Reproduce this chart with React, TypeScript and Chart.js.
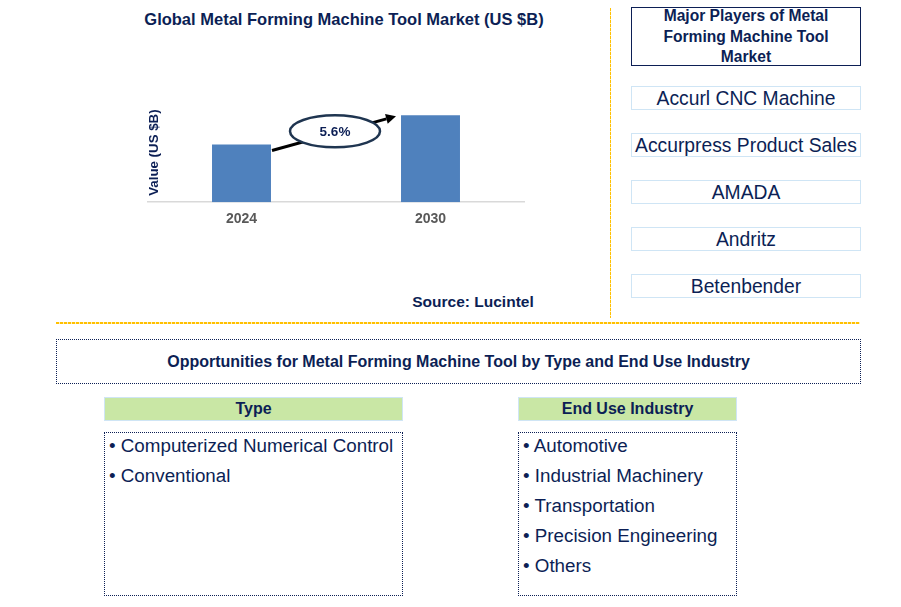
import React, { useEffect, useRef } from "react";
import { Chart, registerables } from "chart.js";

Chart.register(...registerables);

const chartTitle = "Global Metal Forming Machine Tool Market (US $B)";
const years = ["2024", "2030"];
const marketValues = [5.7, 8.6];
const cagrLabel = "5.6%";
const axisTitle = "Value (US $B)";
const sourceLabel = "Source: Lucintel";
const playersTitle = ["Major Players of Metal", "Forming Machine Tool", "Market"];
const players = ["Accurl CNC Machine", "Accurpress Product Sales", "AMADA", "Andritz", "Betenbender"];
const opportunitiesTitle = "Opportunities for Metal Forming Machine Tool by Type and End Use Industry";
const typeTitle = "Type";
const typeItems = ["Computerized Numerical Control", "Conventional"];
const endUseTitle = "End Use Industry";
const endUseItems = ["Automotive", "Industrial Machinery", "Transportation", "Precision Engineering", "Others"];

const NAVY = "#0c1f55";
const FONT = "'Liberation Sans', Arial, sans-serif";

const overlayPlugin = {
  id: "overlay",
  afterDatasetsDraw(chart: any) {
    const ctx = chart.ctx;
    const meta = chart.getDatasetMeta(0);
    const b0 = meta.data[0] as any;
    const b1 = meta.data[1] as any;
    const area = chart.chartArea;
    ctx.save();
    // arrow
    const x1 = b0.x + b0.width / 2 + 1;
    const y1 = b0.y + 6;
    const x2 = b1.x - b1.width / 2 - 5;
    const y2 = b1.y + 1;
    const ang = Math.atan2(y2 - y1, x2 - x1);
    const head = 10;
    ctx.strokeStyle = "#000";
    ctx.fillStyle = "#000";
    ctx.lineWidth = 3;
    ctx.beginPath();
    ctx.moveTo(x1, y1);
    ctx.lineTo(x2 - head * Math.cos(ang), y2 - head * Math.sin(ang));
    ctx.stroke();
    ctx.beginPath();
    ctx.moveTo(x2, y2);
    ctx.lineTo(x2 - head * Math.cos(ang) + 5 * Math.sin(ang), y2 - head * Math.sin(ang) - 5 * Math.cos(ang));
    ctx.lineTo(x2 - head * Math.cos(ang) - 5 * Math.sin(ang), y2 - head * Math.sin(ang) + 5 * Math.cos(ang));
    ctx.closePath();
    ctx.fill();
    // ellipse
    const cx = (x1 + x2) / 2 + 1;
    const cy = (y1 + y2) / 2 - 2;
    ctx.beginPath();
    ctx.ellipse(cx, cy, 45, 16, 0, 0, Math.PI * 2);
    ctx.fillStyle = "#fff";
    ctx.fill();
    ctx.lineWidth = 2.5;
    ctx.strokeStyle = "#1f3550";
    ctx.stroke();
    ctx.fillStyle = NAVY;
    ctx.font = "bold 13.5px " + FONT;
    ctx.textAlign = "center";
    ctx.textBaseline = "middle";
    ctx.fillText(cagrLabel, cx, cy + 1);
    // axis title
    ctx.translate(area.left + 7.5, (area.top + area.bottom) / 2 + 1);
    ctx.rotate(-Math.PI / 2);
    ctx.font = "bold 13.3px " + FONT;
    ctx.fillStyle = NAVY;
    ctx.fillText(axisTitle, 0, 0);
    ctx.restore();
  },
};

function BarChart() {
  const ref = useRef<HTMLCanvasElement | null>(null);
  useEffect(() => {
    if (!ref.current) return;
    const chart = new Chart(ref.current, {
      type: "bar",
      data: {
        labels: years,
        datasets: [
          {
            data: marketValues,
            backgroundColor: "#4f81bd",
            barPercentage: 0.312,
            categoryPercentage: 1,
          },
        ],
      },
      options: {
        animation: false,
        responsive: false,
        maintainAspectRatio: false,
        layout: { padding: { top: 11, left: 0, right: 0, bottom: 0 } },
        plugins: { legend: { display: false }, tooltip: { enabled: false } },
        scales: {
          x: {
            grid: { display: false, drawTicks: false },
            border: { display: true, color: "#d9d9d9", width: 1.5 },
            ticks: { color: "#595959", font: { family: FONT, size: 14, weight: "bold" }, padding: 9 },
          },
          y: { display: false, min: 0, max: 10 },
        },
      },
      plugins: [overlayPlugin],
    });
    return () => chart.destroy();
  }, []);
  return (
    <canvas
      ref={ref}
      width={378}
      height={147}
      style={{ position: "absolute", left: 147, top: 90, width: 378, height: 147 }}
    />
  );
}

const abs = (l: number, t: number, w: number, h: number): React.CSSProperties => ({
  position: "absolute",
  left: l,
  top: t,
  width: w,
  height: h,
  boxSizing: "border-box",
});

export default function App() {
  return (
    <div
      style={{
        position: "fixed",
        left: 0,
        top: 0,
        width: 901,
        height: 607,
        background: "#fff",
        fontFamily: FONT,
        color: NAVY,
        overflow: "hidden",
      }}
    >
      <div style={{ ...abs(90, 8, 508, 22), textAlign: "center", fontWeight: "bold", fontSize: 16.5, lineHeight: "22px", whiteSpace: "nowrap" }}>
        {chartTitle}
      </div>
      <BarChart />
      <div style={{ ...abs(398, 291, 150, 22), textAlign: "center", fontWeight: "bold", fontSize: 15.5, lineHeight: "22px" }}>
        {sourceLabel}
      </div>
      <div
        style={{
          ...abs(610, 8, 1, 310),
          background: "repeating-linear-gradient(to bottom, #ffc000 0px, #ffc000 3px, rgba(255,192,0,0.3) 3px, rgba(255,192,0,0.3) 4px)",
        }}
      />
      <div
        style={{
          ...abs(56, 322, 804, 1.5),
          background: "repeating-linear-gradient(to right, #ffc000 0px, #ffc000 3px, rgba(255,192,0,0.25) 3px, rgba(255,192,0,0.25) 4px)",
        }}
      />

      <div
        style={{
          ...abs(631, 7, 230, 59),
          border: "1.5px solid " + NAVY,
          textAlign: "center",
          fontWeight: "bold",
          fontSize: 15.6,
          lineHeight: "20.5px",
        }}
      >
        <div style={{ position: "relative", top: -2 }}>
          {playersTitle.map((t) => (
            <div key={t} style={{ whiteSpace: "nowrap" }}>{t}</div>
          ))}
        </div>
      </div>
      {players.map((p, i) => (
        <div
          key={p}
          style={{
            ...abs(631, 86 + i * 47, 230, 24),
            border: "1.5px solid #cfe5f5",
            textAlign: "center",
            fontSize: 19.3,
            lineHeight: "23px",
            whiteSpace: "nowrap",
          }}
        >
          {p}
        </div>
      ))}

      <div
        style={{
          ...abs(56, 339, 805, 45),
          border: "1px dotted " + NAVY,
          textAlign: "center",
          fontWeight: "bold",
          fontSize: 16,
          lineHeight: "43px",
          whiteSpace: "nowrap",
        }}
      >
        {opportunitiesTitle}
      </div>

      {[
        { title: typeTitle, items: typeItems, left: 104, width: 299 },
        { title: endUseTitle, items: endUseItems, left: 518, width: 219 },
      ].map((col) => (
        <React.Fragment key={col.title}>
          <div
            style={{
              ...abs(col.left, 397, col.width, 24),
              background: "#c9e7a5",
              border: "1.5px solid #cfe5f5",
              textAlign: "center",
              fontWeight: "bold",
              fontSize: 16,
              lineHeight: "21px",
            }}
          >
            {col.title}
          </div>
          <div
            style={{
              ...abs(col.left, 432, col.width, 164),
              border: "1.5px dotted " + NAVY,
              paddingLeft: 4,
            }}
          >
            <div style={{ position: "relative", top: -2 }}>
              {col.items.map((it) => (
                <div key={it} style={{ fontSize: 18.8, lineHeight: "30px", whiteSpace: "nowrap" }}>
                  {"\u2022 " + it}
                </div>
              ))}
            </div>
          </div>
        </React.Fragment>
      ))}
    </div>
  );
}
